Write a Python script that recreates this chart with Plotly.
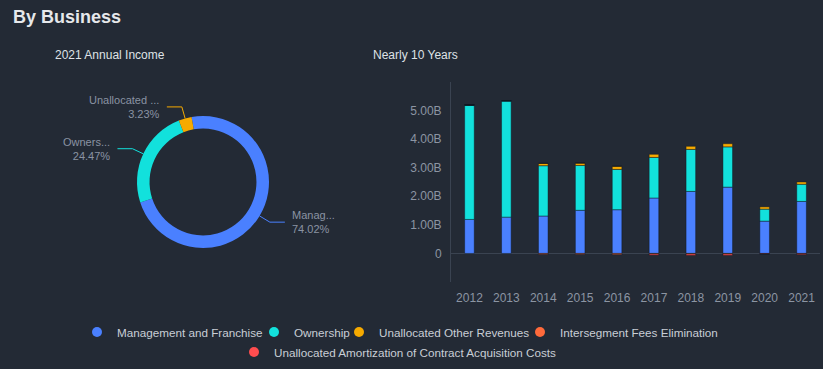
import math
import plotly.graph_objects as go

# ---------------- data ----------------
years = ["2012", "2013", "2014", "2015", "2016", "2017", "2018", "2019", "2020", "2021"]
series_names = [
    "Management and Franchise",
    "Ownership",
    "Unallocated Other Revenues",
    "Intersegment Fees Elimination",
    "Unallocated Amortization of Contract Acquisition Costs",
]
mgmt = [1.19, 1.27, 1.31, 1.51, 1.53, 1.94, 2.17, 2.32, 1.13, 1.8196]
ownership = [4.00, 4.07, 1.76, 1.57, 1.41, 1.42, 1.47, 1.41, 0.42, 0.6015]
unalloc_rev = [0, 0, 0.08, 0.08, 0.11, 0.11, 0.11, 0.11, 0.08, 0.0794]
interseg = [0, 0, -0.03, -0.03, -0.04, -0.02, -0.02, -0.02, -0.01, -0.01]
amort = [0, 0, 0, 0, 0, -0.04, -0.05, -0.05, -0.01, -0.0321]

pie_short_labels = ["Manag...", "Owners...", "Unallocated ..."]

y_tickvals = [0, 1, 2, 3, 4, 5]
y_ticktext = ["0", "1.00B", "2.00B", "3.00B", "4.00B", "5.00B"]

colors = ["#4a80ff", "#12e1dc", "#f6aa00", "#ff6a3b", "#ff4d4f"]
BG = "#232a35"
W, H = 823, 369

# ---------------- figure ----------------
fig = go.Figure()

all_series = [mgmt, ownership, unalloc_rev, interseg, amort]
for name, vals, col in zip(series_names, all_series, colors):
    fig.add_trace(go.Bar(
        x=years, y=vals, name=name, showlegend=False,
        marker=dict(color=col, line=dict(color="rgba(15,22,30,0.45)", width=1)),
        width=0.26, xaxis="x", yaxis="y",
    ))

# legend entries as round dots, one small legend per entry (compact ECharts-like spacing)
legend_ids = ["legend", "legend2", "legend3", "legend4", "legend5"]
for name, col, lid in zip(series_names, colors, legend_ids):
    fig.add_trace(go.Scatter(
        x=[None], y=[None], mode="markers", name=name,
        marker=dict(color=col, size=10, symbol="circle"),
        xaxis="x", yaxis="y", legend=lid,
    ))

# pie of 2021 (percent of the net total, as in the source)
idx = years.index("2021")
vals_2021 = [s[idx] for s in all_series]
net_total = sum(vals_2021)
pie_vals = vals_2021[:3]
pie_pct = ["%.2f%%" % (v / net_total * 100) for v in pie_vals]

ROT = -10
pcx, pcy, pr = 203, 182, 66  # pie centre / radius in px
fig.add_trace(go.Pie(
    values=pie_vals, labels=series_names[:3],
    textinfo="none",
    hole=0.81, sort=False, direction="clockwise", rotation=ROT,
    marker=dict(colors=colors[:3], line=dict(width=0)),
    domain=dict(x=[(pcx - pr) / W, (pcx + pr) / W], y=[1 - (pcy + pr) / H, 1 - (pcy - pr) / H]),
    showlegend=False, hoverinfo="label+percent",
))

# outside labels with leader lines, derived from the slice angles
shapes, annotations = [], []
pos_total = sum(pie_vals)
cum = 0.0
px = lambda x: x / W
py = lambda y: 1 - y / H
for v, short, pct, col in zip(pie_vals, pie_short_labels, pie_pct, colors):
    mid = math.radians(ROT + (cum + v / 2) / pos_total * 360)
    cum += v
    sx, sy = math.sin(mid), -math.cos(mid)
    x0, y0 = pcx + pr * sx, pcy + pr * sy
    x1, y1 = pcx + (pr + 12) * sx, pcy + (pr + 12) * sy
    side = 1 if sx >= 0 else -1
    x2 = x1 + side * 15
    shapes.append(dict(type="path", xref="paper", yref="paper",
                       path="M %f %f L %f %f L %f %f" % (px(x0), py(y0), px(x1), py(y1), px(x2), py(y1)),
                       line=dict(color=col, width=1)))
    annotations.append(dict(text=short + "<br>" + pct, x=px(x2 + side * 5), y=py(y1),
                            xref="paper", yref="paper",
                            xanchor="left" if side > 0 else "right", yanchor="middle",
                            align="left" if side > 0 else "right", showarrow=False,
                            font=dict(size=11, color="#8a93a3")))

annotations += [
    dict(text="2021 Annual Income", x=53 / W, y=1 - 55 / H, xref="paper", yref="paper",
         xanchor="left", yanchor="middle", showarrow=False,
         font=dict(size=12, color="#dfe2e6")),
    dict(text="Nearly 10 Years", x=371 / W, y=1 - 55 / H, xref="paper", yref="paper",
         xanchor="left", yanchor="middle", showarrow=False,
         font=dict(size=12, color="#dfe2e6")),
]

legend_common = dict(orientation="h", xanchor="left", yanchor="middle",
                     font=dict(size=11.7, color="#c9ced6"), bgcolor="rgba(0,0,0,0)",
                     itemwidth=30)
legend_pos = [(77, 332), (254, 332), (339, 332), (520, 332), (234, 352)]
legend_layout = {lid: dict(x=lx / W, y=1 - ly / H, **legend_common)
                 for lid, (lx, ly) in zip(legend_ids, legend_pos)}

fig.update_layout(
    width=W, height=H,
    margin=dict(l=0, r=0, t=0, b=0),
    paper_bgcolor=BG, plot_bgcolor=BG,
    font=dict(family="Liberation Sans, Arial, sans-serif", color="#c9ced6", size=12),
    barmode="relative",
    title=dict(text="<b>By Business</b>", x=13 / W, xanchor="left",
               y=1 - 17 / H, yanchor="middle",
               font=dict(size=18, color="#e6e8eb")),
    xaxis=dict(domain=[451 / W, 820 / W], type="category",
               showgrid=False, showline=False, zeroline=False,
               ticks="", ticklabelstandoff=7,
               tickfont=dict(color="#8c95a3", size=12), fixedrange=True),
    yaxis=dict(domain=[1 - 282 / H, 1 - 82 / H], range=[-1, 6],
               tickvals=y_tickvals, ticktext=y_ticktext,
               showgrid=False, zeroline=True, zerolinecolor="#3a4351", zerolinewidth=1,
               showline=True, linecolor="#3a4351", linewidth=1,
               ticks="", ticklabelstandoff=6,
               tickfont=dict(color="#8c95a3", size=12), fixedrange=True),
    shapes=shapes,
    annotations=annotations,
    **legend_layout,
)

fig.write_html("out.html",
               config={"displayModeBar": False},
               post_script="document.body.style.margin='0';"
                           "document.body.style.backgroundColor='%s';" % BG)
